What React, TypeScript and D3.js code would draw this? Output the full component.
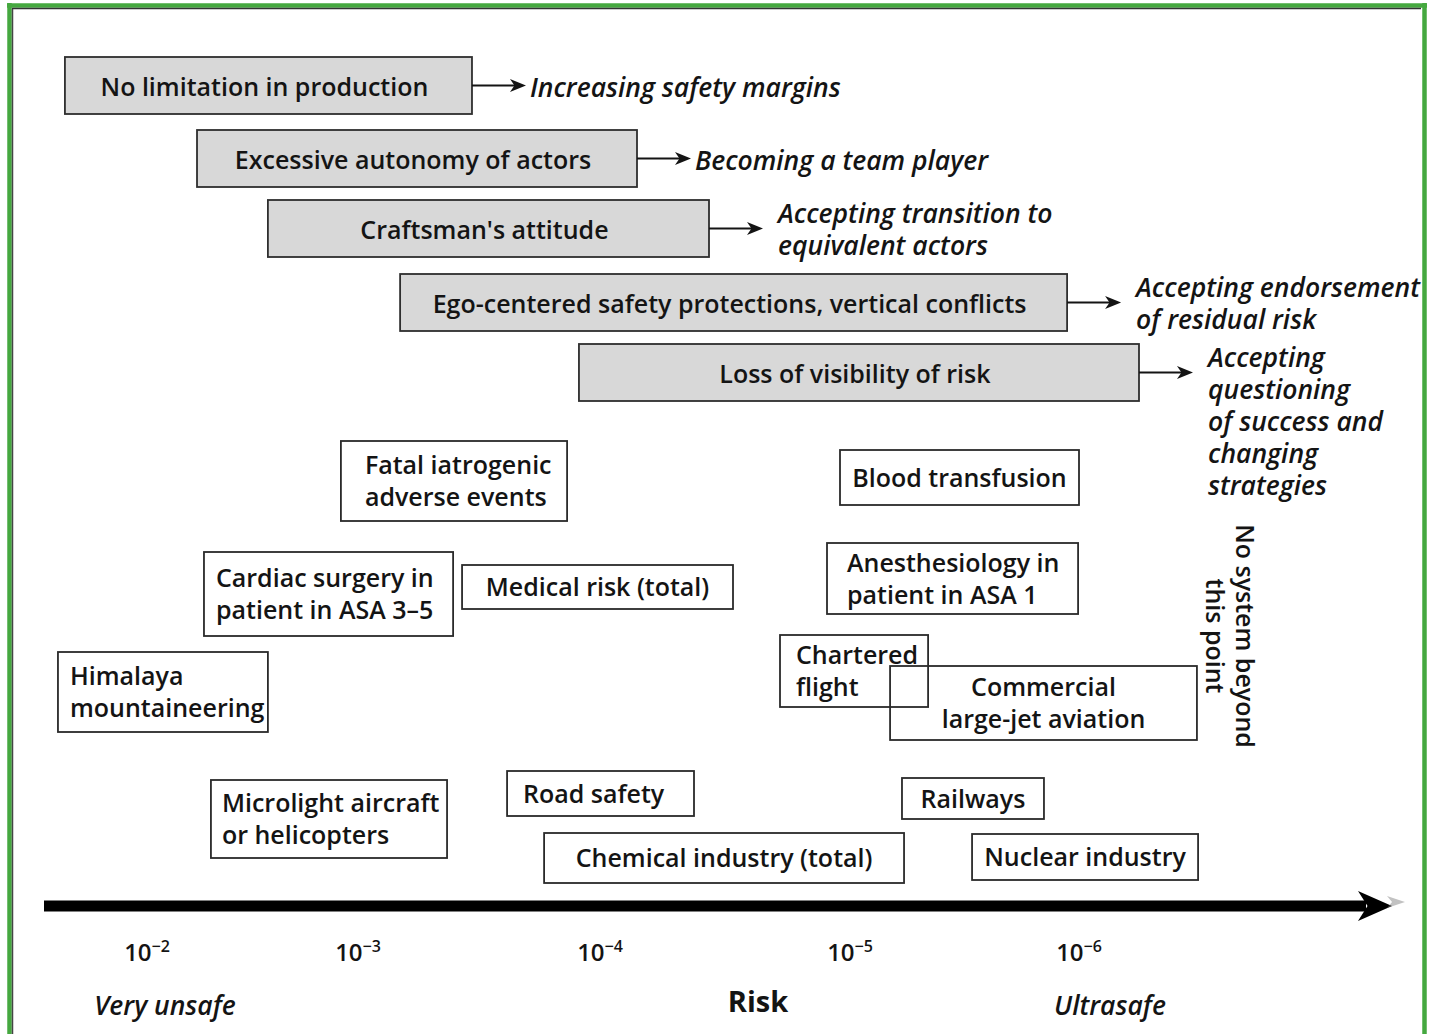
import React from 'react';
import * as d3 from 'd3';

const W = 1432;
const H = 1034;

// Risk axis: exponents of 10^-n
const riskExponents = [2, 3, 4, 5, 6];
const tickLabels = ['−2', '−3', '−4', '−5', '−6'];
const extremeLabels = ['Very unsafe', 'Ultrasafe'];
const axisTitle = 'Risk';
const limitLabel = ['No system beyond', 'this point'];

// Barriers (gray boxes) – extents in risk exponent units
const barrierLabels = [
  'No limitation in production',
  'Excessive autonomy of actors',
  "Craftsman's attitude",
  'Ego-centered safety protections, vertical conflicts',
  'Loss of visibility of risk',
];
const barrierFrom = [1.611, 2.237, 2.573, 3.174, 3.913];
const barrierTo = [3.471, 4.148, 4.436, 5.948, 6.262];
const barrierOutcomes = [
  ['Increasing safety margins'],
  ['Becoming a team player'],
  ['Accepting transition to', 'equivalent actors'],
  ['Accepting endorsement', 'of residual risk'],
  ['Accepting', 'questioning', 'of success and', 'changing', 'strategies'],
];
const barrierRowTop = [57, 130, 200, 274, 344];

// Systems (white boxes) – extents in risk exponent units
const systemLabels = [
  ['Fatal iatrogenic', 'adverse events'],
  ['Blood transfusion'],
  ['Cardiac surgery in', 'patient in ASA 3–5'],
  ['Medical risk (total)'],
  ['Anesthesiology in', 'patient in ASA 1'],
  ['Himalaya', 'mountaineering'],
  ['Chartered', 'flight'],
  ['Commercial', 'large-jet aviation'],
  ['Microlight aircraft', 'or helicopters'],
  ['Road safety'],
  ['Railways'],
  ['Chemical industry (total)'],
  ['Nuclear industry'],
];
const systemFrom = [2.919, 4.96, 2.27, 3.43, 4.908, 1.578, 4.72, 5.175, 2.303, 3.616, 5.227, 3.769, 5.533];
const systemTo = [3.864, 6.0, 3.393, 4.532, 5.996, 2.573, 5.341, 6.515, 3.368, 4.376, 5.847, 5.236, 6.52];
const systemTop = [441, 450, 552, 565, 543, 652, 635, 666, 780, 771, 778, 833, 834];
const systemBottom = [521, 505, 636, 609, 614, 732, 707, 740, 858, 816, 819, 883, 880];
const systemPad = [24, 0, 12, 0, 20, 12, 16, 0, 11, 16, 0, 0, 0]; // 0 = centered

const FONT = "'Open Sans', 'Noto Sans', sans-serif";
const INK = '#141414';

export default function App() {
  const x = d3.scaleLinear().domain(riskExponents).range([147, 358, 600, 850, 1079]);
  const lineH = 32;
  const fs = 25;
  const fsItalic = 26.5;

  const arrowHead = (tx: number, ty: number, len = 16, half = 6.5) =>
    `M${tx},${ty} L${tx - len},${ty - half} L${tx - len * 0.72},${ty} L${tx - len},${ty + half} Z`;

  const axisY = 906;
  const axisStart = 44;
  const axisTip = 1392;

  return (
    <svg
      width={W}
      height={H}
      viewBox={`0 0 ${W} ${H}`}
      style={{ position: 'absolute', left: 0, top: 0, background: '#fff' }}
      fontFamily={FONT}
    >
      <rect x={0} y={0} width={W} height={H} fill="#fff" />
      {/* frame */}
      <line x1={9.5} y1={3} x2={9.5} y2={H} stroke="#45a83f" strokeWidth={4.5} />
      <line x1={7} y1={5.5} x2={1427} y2={5.5} stroke="#45a83f" strokeWidth={4.5} />
      <line x1={1424.5} y1={3} x2={1424.5} y2={H} stroke="#45a83f" strokeWidth={4.5} />
      <line x1={12.5} y1={8.5} x2={12.5} y2={H} stroke="#444" strokeWidth={1.5} />
      <line x1={12} y1={8.5} x2={1421} y2={8.5} stroke="#333" strokeWidth={1.5} />

      {/* barriers */}
      {barrierLabels.map((lab, i) => {
        const x0 = x(barrierFrom[i]);
        const x1 = x(barrierTo[i]);
        const top = barrierRowTop[i];
        const h = 57;
        const cy = top + h / 2;
        const tip = x1 + 54;
        const outs = barrierOutcomes[i];
        const gap = outs.length > 1 ? 15 : 4;
        const firstY = outs.length > 1 ? cy - lineH / 2 : cy + 1;
        return (
          <g key={'b' + i}>
            <rect x={x0} y={top} width={x1 - x0} height={h} fill="#d8d8d8" stroke="#2e2e2e" strokeWidth={1.8} />
            <text x={(x0 + x1) / 2 - 4} y={cy} textAnchor="middle" dominantBaseline="central" fontSize={fs} fontWeight={600} fill={INK}>
              {lab}
            </text>
            <line x1={x1} y1={cy} x2={tip - 10} y2={cy} stroke={INK} strokeWidth={1.8} />
            <path d={arrowHead(tip, cy)} fill={INK} />
            {outs.map((t, j) => (
              <text key={j} x={tip + gap} y={firstY + j * lineH} dominantBaseline="central" fontSize={fsItalic} fontStyle="italic" fontWeight={600} fill={INK}>
                {t}
              </text>
            ))}
          </g>
        );
      })}

      {/* systems */}
      {systemLabels.map((lines, i) => {
        const x0 = x(systemFrom[i]);
        const x1 = x(systemTo[i]);
        const top = systemTop[i];
        const bot = systemBottom[i];
        const cy = (top + bot) / 2;
        const pad = systemPad[i];
        const tx = pad ? x0 + pad : (x0 + x1) / 2;
        const anchor = pad ? 'start' : 'middle';
        const y0 = cy - ((lines.length - 1) * lineH) / 2 - 1;
        return (
          <g key={'s' + i}>
            <rect x={x0} y={top} width={x1 - x0} height={bot - top} fill="none" stroke="#2a2a2a" strokeWidth={1.8} />
            {lines.map((t, j) => (
              <text key={j} x={tx} y={y0 + j * lineH} textAnchor={anchor} dominantBaseline="central" fontSize={fs} fontWeight={600} fill={INK}>
                {t}
              </text>
            ))}
          </g>
        );
      })}

      {/* limit note */}
      <g transform={`translate(${x(6.67)},636) rotate(90)`}>
        {limitLabel.map((t, j) => (
          <text key={j} x={0} y={-14 + j * 30} textAnchor="middle" dominantBaseline="central" fontSize={fs} fontWeight={600} fill={INK}>
            {t}
          </text>
        ))}
      </g>

      {/* axis */}
      <line x1={axisStart} y1={axisY} x2={axisTip - 26} y2={axisY} stroke="#000" strokeWidth={11} />
      <path d={arrowHead(axisTip, axisY, 34, 15)} fill="#000" />
      <path d={arrowHead(1405, 902, 18, 6)} fill="#777" opacity={0.45} />

      {riskExponents.map((e, i) => (
        <text key={'t' + i} x={x(e)} y={961} textAnchor="middle" fontSize={24} fontWeight={600} fill={INK}>
          10
          <tspan fontSize={16} dy={-9}>{tickLabels[i]}</tspan>
        </text>
      ))}

      <text x={x(2) + 18} y={1015} textAnchor="middle" fontSize={fsItalic} fontStyle="italic" fontWeight={600} fill={INK}>
        {extremeLabels[0]}
      </text>
      <text x={x(6) + 31} y={1015} textAnchor="middle" fontSize={fsItalic} fontStyle="italic" fontWeight={600} fill={INK}>
        {extremeLabels[1]}
      </text>
      <text x={(x(4) + x(5)) / 2 + 33} y={1012} textAnchor="middle" fontSize={29} fontWeight={700} fill={INK}>
        {axisTitle}
      </text>
    </svg>
  );
}
